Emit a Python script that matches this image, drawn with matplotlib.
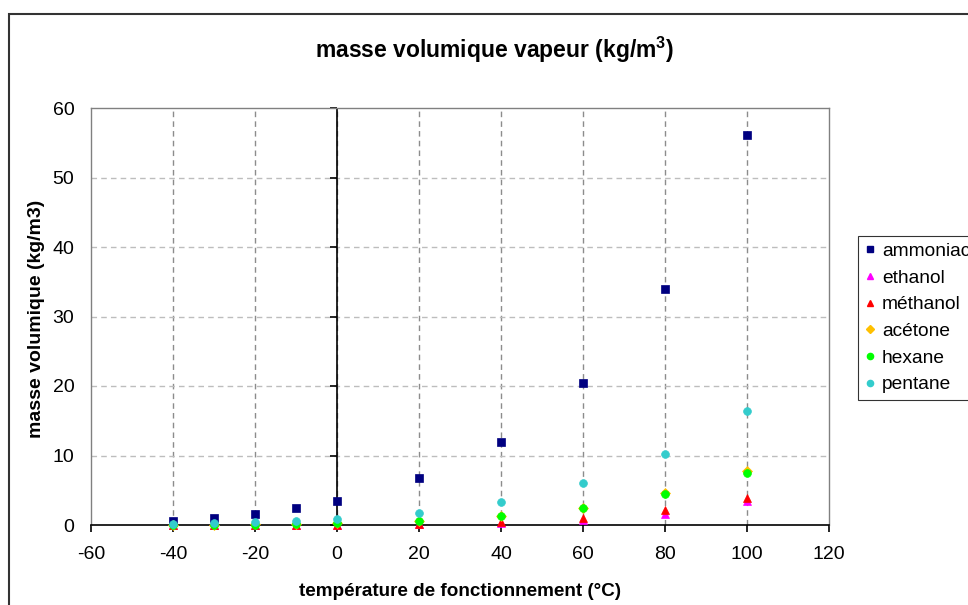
import matplotlib
matplotlib.use("Agg")
import matplotlib.pyplot as plt
from matplotlib.patches import Rectangle
from matplotlib.lines import Line2D

plt.rcParams['font.family'] = ['Liberation Sans', 'DejaVu Sans']
plt.rcParams['mathtext.fontset'] = 'custom'
plt.rcParams['mathtext.rm'] = 'Liberation Sans'
plt.rcParams['mathtext.bf'] = 'Liberation Sans:bold'
plt.rcParams['axes.unicode_minus'] = False

temperatures = [-40, -30, -20, -10, 0, 20, 40, 60, 80, 100]
ammoniac = [0.64, 1.04, 1.6, 2.39, 3.46, 6.7, 12.0, 20.5, 34.0, 56.1]
ethanol = [0.002, 0.005, 0.01, 0.02, 0.03, 0.1, 0.3, 0.75, 1.6, 3.4]
methanol = [0.005, 0.01, 0.02, 0.04, 0.06, 0.15, 0.4, 0.95, 2.1, 3.95]
acetone = [0.02, 0.04, 0.08, 0.14, 0.24, 0.6, 1.3, 2.5, 4.55, 7.7]
hexane = [0.02, 0.04, 0.07, 0.13, 0.22, 0.57, 1.3, 2.45, 4.4, 7.45]
pentane = [0.17, 0.28, 0.43, 0.6, 0.8, 1.7, 3.35, 6.0, 10.2, 16.4]

series = [
    ("ammoniac", ammoniac, 's', '#000080', 5.8),
    ("ethanol", ethanol, '^', '#FF00FF', 6.0),
    ("méthanol", methanol, '^', '#FF0000', 6.0),
    ("acétone", acetone, 'D', '#FFC000', 4.6),
    ("hexane", hexane, 'o', '#00FF00', 5.6),
    ("pentane", pentane, 'o', '#33CCCC', 5.6),
]

x_ticks = [-60, -40, -20, 0, 20, 40, 60, 80, 100, 120]
y_ticks = [0, 10, 20, 30, 40, 50, 60]

fig = plt.figure(figsize=(9.68, 6.05), dpi=100)
ax = fig.add_axes([91/968, 1-525/605, (829-91)/968, (525-108)/605])

ax.set_xlim(-60, 120)
ax.set_ylim(0, 60)
ax.set_xticks(x_ticks)
ax.set_yticks(y_ticks)

for xv in x_ticks[1:-1]:
    ax.axvline(xv, color='#8c8c8c', lw=1.0, ls=(0, (4, 3)), zorder=1)
for yv in y_ticks[1:-1]:
    ax.axhline(yv, color='#bdbdbd', lw=1.0, ls=(0, (4, 3)), zorder=1)

for s in ['left', 'top', 'right']:
    ax.spines[s].set_color('#808080')
    ax.spines[s].set_linewidth(1.0)
ax.spines['bottom'].set_color('black')
ax.spines['bottom'].set_linewidth(1.2)
ax.axvline(0, color='black', lw=1.2, zorder=2)
ax.plot([0]*len(y_ticks), y_ticks, linestyle='none', marker=0, markersize=5,
        color='black', markeredgewidth=1.2, clip_on=False, zorder=2)

ax.tick_params(axis='x', direction='out', length=5, width=1.2, color='black',
               labelsize=14, pad=10)
ax.tick_params(axis='y', length=0, labelsize=14, pad=12)

for name, vals, mk, col, ms in series:
    ax.plot(temperatures, vals, linestyle='none', marker=mk, color=col,
            markersize=ms, markeredgewidth=0.5, markeredgecolor=col,
            label=name, zorder=3, clip_on=False)

fig.text(460/968, 1-591/605, 'température de fonctionnement (°C)',
         ha='center', va='center', fontsize=13.6, fontweight='bold')
fig.text(37/968, 1-319/605, 'masse volumique (kg/m3)', rotation=90,
         ha='center', va='center', fontsize=14, fontweight='bold')

fig.text(494/968, 1-50/605, r'masse volumique vapeur (kg/m$^{\mathbf{3}}$)',
         ha='center', va='center', fontsize=16.5, fontweight='bold')

handles = [Line2D([], [], linestyle='none', marker=mk, color=col,
                  markersize=ms*0.8) for _, _, mk, col, ms in series]
leg = fig.legend(handles, [s[0] for s in series], loc='upper left',
                 bbox_to_anchor=(858/968, 1-236/605), fontsize=13.8,
                 frameon=True, fancybox=False, edgecolor='black',
                 handlelength=0.5, handletextpad=0.4, borderpad=0.35,
                 labelspacing=0.48, borderaxespad=0)
leg.get_frame().set_linewidth(0.8)

fig.patches.append(Rectangle((9/968, -0.2), 2, 1-14/605+0.2, transform=fig.transFigure,
                             fill=False, edgecolor='#333333', lw=1.5, clip_on=False))

fig.savefig('out.png', dpi=100)
